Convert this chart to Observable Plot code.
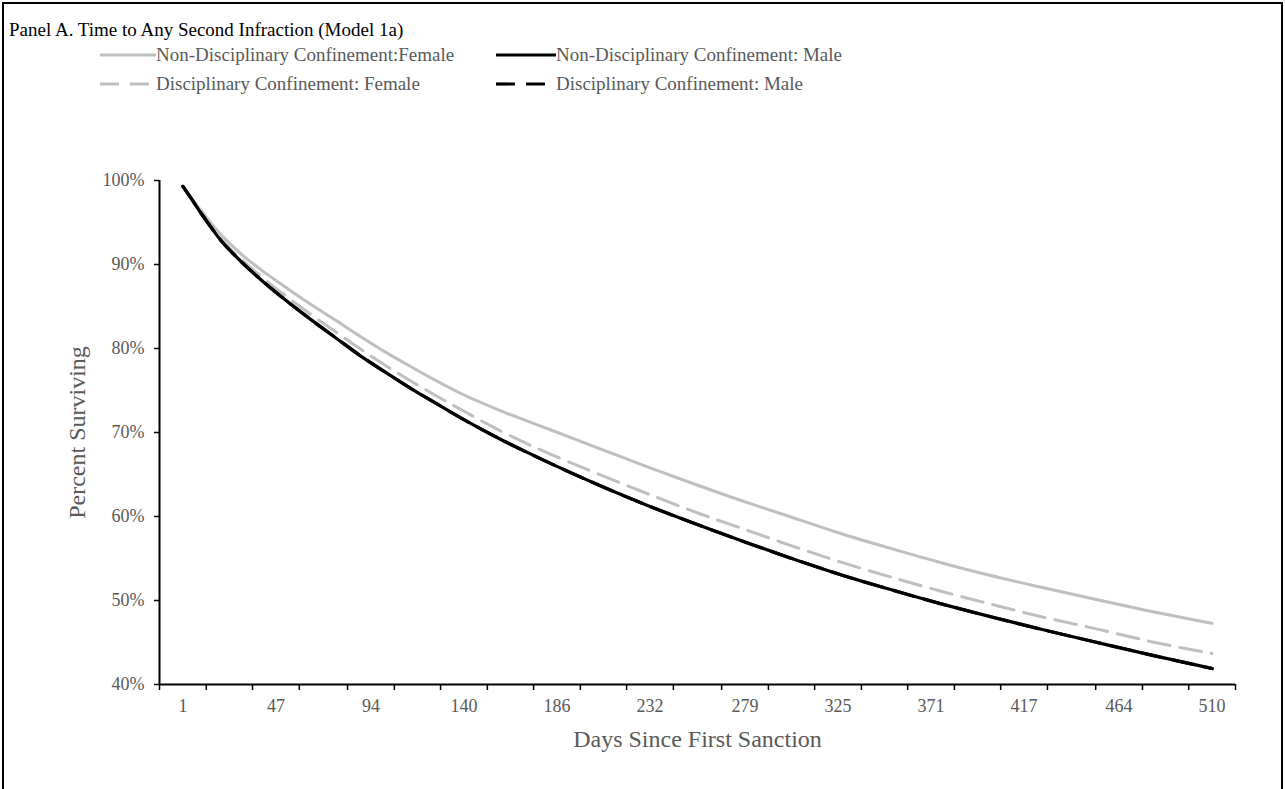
<!DOCTYPE html>
<html>
<head>
<meta charset="utf-8">
<script src="https://cdn.jsdelivr.net/npm/d3@7"></script>
<script src="https://cdn.jsdelivr.net/npm/@observablehq/plot@0.6"></script>
<style>
  html, body { margin: 0; padding: 0; overflow: hidden; background: #fff; width: 1285px; height: 789px; }
  body { position: relative; font-family: "Liberation Serif", "Times New Roman", serif; }
  #border { position: absolute; left: 2px; top: 2px; width: 1281px; height: 900px; box-sizing: border-box; border: 2px solid #000; }
  #title { position: absolute; left: 9px; top: 19px; font-size: 19px; line-height: 22px; color: #000; white-space: nowrap; }
  .leg { position: absolute; font-size: 19px; line-height: 22px; color: #595959; white-space: nowrap; }
  .sw { position: absolute; overflow: visible; }
  #chart { position: absolute; left: 0; top: 100px; }
</style>
</head>
<body>
<div id="border"></div>
<div id="title">Panel A. Time to Any Second Infraction (Model 1a)</div>
<div id="legend"></div>
<div id="chart"></div>
<script>
// Days since first sanction at which the survival curves are sampled
const days = [1, 5, 10, 15, 20, 25, 30, 40, 50, 64, 77, 89, 101, 114, 126, 138, 158, 183, 208, 232, 257, 282, 301, 326, 351, 376, 400, 425, 455, 480, 510];

// Percent surviving (no second infraction) for each group
const nonDiscFemale = [99.3, 98.0, 96.4, 94.9, 93.5, 92.3, 91.2, 89.3, 87.6, 85.3, 83.3, 81.4, 79.6, 77.8, 76.2, 74.7, 72.6, 70.3, 68.0, 65.8, 63.6, 61.5, 60.0, 58.0, 56.2, 54.5, 53.0, 51.6, 50.0, 48.7, 47.3];
const nonDiscMale   = [99.3, 97.9, 96.1, 94.4, 92.8, 91.5, 90.3, 88.1, 86.1, 83.5, 81.2, 79.1, 77.2, 75.2, 73.5, 71.8, 69.2, 66.3, 63.6, 61.2, 58.9, 56.7, 55.1, 53.1, 51.3, 49.6, 48.1, 46.6, 44.9, 43.5, 41.9];
const discFemale    = [99.3, 97.9, 96.2, 94.5, 93.0, 91.7, 90.6, 88.5, 86.6, 84.1, 81.9, 79.9, 78.0, 76.1, 74.4, 72.8, 70.2, 67.4, 64.9, 62.6, 60.3, 58.2, 56.6, 54.6, 52.8, 51.1, 49.6, 48.1, 46.5, 45.1, 43.7];
const discMale      = [99.3, 97.9, 96.1, 94.4, 92.8, 91.5, 90.3, 88.1, 86.1, 83.5, 81.2, 79.1, 77.2, 75.2, 73.5, 71.8, 69.2, 66.3, 63.6, 61.2, 58.9, 56.7, 55.1, 53.1, 51.3, 49.6, 48.1, 46.6, 44.9, 43.5, 41.9];

// Axis tick labels
const labelDays = [1, 47, 94, 140, 186, 232, 279, 325, 371, 417, 464, 510];
const yTicks = [40, 50, 60, 70, 80, 90, 100];

// Series styling and legend text
const seriesNames = [
  "Non-Disciplinary Confinement:Female",
  "Non-Disciplinary Confinement: Male",
  "Disciplinary Confinement: Female",
  "Disciplinary Confinement: Male"
];
const seriesValues = [nonDiscFemale, nonDiscMale, discFemale, discMale];
const seriesColors = ["#bfbfbf", "#000000", "#bfbfbf", "#000000"];
const seriesDash = [null, null, "22,10", "22,10"];
const seriesWidth = [3, 3.2, 3, 3.2];

// Category-style axis: tick marks sit halfway between labels, two per label
const q = (labelDays[labelDays.length - 1] - labelDays[0]) / (labelDays.length - 1) / 4;
const boundaries = labelDays.flatMap(d => [d - q, d + q]);
const xDomain = [labelDays[0] - q, labelDays[labelDays.length - 1] + q];

// Legend: two columns, two rows
const legend = document.getElementById("legend");
const legendPos = [
  {sx: 100, tx: 156, y: 55},
  {sx: 496, tx: 556, y: 55},
  {sx: 100, tx: 156, y: 84},
  {sx: 496, tx: 556, y: 84}
];
seriesNames.forEach((name, i) => {
  const p = legendPos[i];
  const len = p.tx - p.sx - (seriesDash[i] ? 6 : 0);
  const svgNS = "http://www.w3.org/2000/svg";
  const sw = document.createElementNS(svgNS, "svg");
  sw.setAttribute("class", "sw");
  sw.setAttribute("width", len);
  sw.setAttribute("height", 10);
  sw.style.left = p.sx + "px";
  sw.style.top = (p.y - 5) + "px";
  const ln = document.createElementNS(svgNS, "line");
  ln.setAttribute("x1", 0); ln.setAttribute("x2", len);
  ln.setAttribute("y1", 5); ln.setAttribute("y2", 5);
  ln.setAttribute("stroke", seriesColors[i]);
  ln.setAttribute("stroke-width", seriesWidth[i]);
  if (seriesDash[i]) ln.setAttribute("stroke-dasharray", "19,11");
  sw.appendChild(ln);
  legend.appendChild(sw);
  const t = document.createElement("div");
  t.className = "leg";
  t.textContent = name;
  t.style.left = p.tx + "px";
  t.style.top = (p.y - 11) + "px";
  legend.appendChild(t);
});

const lineMarks = [0, 2, 1, 3].map(i =>
  Plot.line(days, {
    x: d => d,
    y: (d, j) => seriesValues[i][j],
    stroke: seriesColors[i],
    strokeWidth: seriesWidth[i],
    strokeDasharray: seriesDash[i] ?? undefined,
    curve: "monotone-x"
  })
);

const chart = Plot.plot({
  width: 1285,
  height: 689,
  marginLeft: 159,
  marginRight: 50,
  marginTop: 80,
  marginBottom: 105,
  style: {fontFamily: '"Liberation Serif", "Times New Roman", serif', fontSize: "18px", color: "#595959", background: "transparent", overflow: "visible"},
  x: {domain: xDomain},
  y: {domain: [40, 100]},
  marks: [
    ...lineMarks,
    Plot.ruleY([40], {stroke: "#000", strokeWidth: 2}),
    Plot.ruleX([xDomain[0]], {stroke: "#000", strokeWidth: 2}),
    Plot.axisX({ticks: boundaries, tickSize: 6, tickFormat: () => "", label: null, stroke: "#000", strokeWidth: 1.5}),
    Plot.axisX({ticks: labelDays, tickSize: 0, tickPadding: 15, tickFormat: d => String(d), label: null, fill: "#595959", fontSize: 18}),
    Plot.axisY({ticks: yTicks, tickSize: 5, tickPadding: 10, tickFormat: d => d + "%", label: null, stroke: "#000", strokeWidth: 1.5, fill: "#595959", fontSize: 18}),
    Plot.text(["Percent Surviving"], {frameAnchor: "left", dx: -82, rotate: -90, textAnchor: "middle", lineAnchor: "middle", fontSize: 24, fill: "#595959"}),
    Plot.text(["Days Since First Sanction"], {frameAnchor: "bottom", dy: 55, textAnchor: "middle", lineAnchor: "middle", fontSize: 24, fill: "#595959"})
  ]
});
document.getElementById("chart").appendChild(chart);
</script>
</body>
</html>
